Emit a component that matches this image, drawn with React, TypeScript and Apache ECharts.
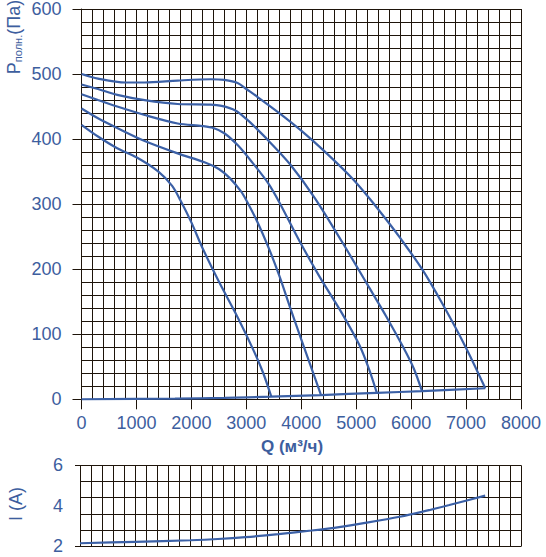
import React, { useEffect, useRef } from "react";
import * as echarts from "echarts";

// Pressure curves: [Q (m3/h), P (Pa)]
const curve1: number[][] = [
  [0, 422], [300, 404], [650, 386], [1000, 372], [1400, 350], [1650, 328], [1800, 306],
  [2000, 272], [2200, 233], [2500, 181], [2800, 133], [3100, 81], [3300, 42], [3455, 4],
];
const curve2: number[][] = [
  [0, 447], [300, 432], [650, 417], [1150, 397], [1750, 378], [2250, 364], [2500, 354],
  [2700, 340], [2900, 320], [3000, 306], [3200, 273], [3420, 230], [3600, 190], [3790, 143],
  [4000, 92], [4210, 42], [4360, 6.5],
];
const curve3: number[][] = [
  [0, 469], [300, 460], [650, 450], [1150, 437], [1750, 424], [2200, 420], [2400, 417],
  [2600, 409], [2850, 390], [3100, 365], [3400, 332], [3600, 303], [3970, 243], [4330, 189],
  [4750, 131], [5060, 83], [5240, 45], [5375, 10],
];
const curve4: number[][] = [
  [0, 484], [300, 477], [650, 468], [1150, 460], [1750, 454], [2350, 453], [2550, 451],
  [2800, 444], [3000, 431], [3200, 415], [3400, 398], [3800, 361], [4250, 309], [4750, 241],
  [5200, 177], [5550, 127], [5850, 81], [6050, 47], [6200, 12],
];
const curve5: number[][] = [
  [0, 500], [300, 493], [800, 487], [1150, 487], [1750, 490], [2350, 492], [2600, 491],
  [2850, 486], [3000, 477], [3200, 465], [3600, 440], [4000, 413], [4400, 383], [4900, 342],
  [5250, 308], [5550, 276], [5800, 248], [6200, 200], [6575, 146], [7000, 79], [7350, 17],
];
const baseLine: number[][] = [
  [0, 0], [1700, 1], [2600, 2.2], [3455, 4], [4360, 6.5], [5375, 10], [6200, 12.5], [7350, 17],
];
// Current: [Q (m3/h), I (A)]
const current: number[][] = [
  [0, 2.15], [1000, 2.22], [2000, 2.3], [2500, 2.36], [3000, 2.45], [3600, 2.6], [4200, 2.78],
  [4700, 2.95], [5200, 3.17], [5800, 3.46], [6200, 3.7], [6700, 4.04], [7350, 4.5],
];
const currentLabels = [2, 4, 6];

export default function App() {
  const ref = useRef<HTMLDivElement>(null);
  useEffect(() => {
    const chart = echarts.init(ref.current!, null, { renderer: "svg" });
    const gridColor = "#1e140a";
    const blue = "#3d5e9e";
    const lineColor = "#3b60a6";
    const font = "'Liberation Sans', Arial, sans-serif";
    const plain = (v: number) => String(v);
    const pCurve = (data: number[][]) => ({
      type: "line",
      xAxisIndex: 0,
      yAxisIndex: 0,
      data,
      symbol: "none",
      showSymbol: false,
      smooth: 0.3,
      silent: true,
      lineStyle: { color: lineColor, width: 2.2 },
    });
    const gl = { color: gridColor, width: 1 };
    chart.setOption({
      animation: false,
      grid: [
        { left: 81.5, top: 9, width: 439.5, height: 390.3 },
        { left: 80, top: 465.3, width: 441, height: 81 },
      ],
      xAxis: [
        {
          gridIndex: 0, type: "value", min: 0, max: 8000, interval: 1000,
          axisLine: { show: true, onZero: false, lineStyle: gl },
          axisTick: { show: true, inside: false, length: 10, lineStyle: gl },
          minorTick: { show: true, splitNumber: 5, length: 0, lineStyle: { width: 0 } },
          splitLine: { show: true, lineStyle: gl },
          minorSplitLine: { show: true, lineStyle: gl },
          axisLabel: { color: blue, fontSize: 18, fontFamily: font, margin: 15, formatter: plain },
        },
        {
          gridIndex: 1, type: "value", min: 0, max: 8000, interval: 1000,
          axisLine: { show: true, onZero: false, lineStyle: gl },
          axisTick: { show: false },
          minorTick: { show: true, splitNumber: 5, length: 0, lineStyle: { width: 0 } },
          splitLine: { show: true, lineStyle: gl },
          minorSplitLine: { show: true, lineStyle: gl },
          axisLabel: { show: false },
        },
      ],
      yAxis: [
        {
          gridIndex: 0, type: "value", min: 0, max: 600, interval: 100, position: "left",
          axisLine: { show: true, lineStyle: gl },
          axisTick: { show: true, inside: false, length: 9, lineStyle: gl },
          minorTick: { show: true, splitNumber: 5, length: 0, lineStyle: { width: 0 } },
          splitLine: { show: true, lineStyle: gl },
          minorSplitLine: { show: true, lineStyle: gl },
          axisLabel: { color: blue, fontSize: 18, fontFamily: font, margin: 20, formatter: plain },
        },
        {
          gridIndex: 1, type: "value", min: 0, max: 5, interval: 1, position: "left",
          axisLine: { show: false },
          axisTick: { show: false },
          splitLine: { show: true, lineStyle: gl },
          axisLabel: { show: false },
        },
        {
          gridIndex: 1, type: "value", min: 2, max: 6, interval: 2, position: "left", offset: 0,
          axisLine: { show: false },
          axisTick: { show: true, inside: false, length: 5, lineStyle: gl, customValues: [2, 6] },
          splitLine: { show: false },
          axisLabel: {
            color: blue, fontSize: 18, fontFamily: font, margin: 17,
            customValues: currentLabels, formatter: plain,
          },
        },
      ],
      series: [
        pCurve(curve1),
        pCurve(curve2),
        pCurve(curve3),
        pCurve(curve4),
        pCurve(curve5),
        { ...pCurve(baseLine), smooth: 0.3 },
        {
          type: "line", xAxisIndex: 1, yAxisIndex: 2, data: current, symbol: "none",
          showSymbol: false, smooth: 0.3, silent: true,
          lineStyle: { color: lineColor, width: 2.2 },
        },
      ],
      graphic: [
        {
          type: "text", x: 14, y: 37, rotation: Math.PI / 2,
          style: {
            text: "{p|P}{s|полн.}{n|(Па)}",
            align: "center", verticalAlign: "middle",
            fill: blue, fontFamily: font,
            rich: {
              p: { fontSize: 18, fill: blue, fontFamily: font },
              s: { fontSize: 11, fill: blue, fontFamily: font, verticalAlign: "bottom" },
              n: { fontSize: 18, fill: blue, fontFamily: font },
            },
          },
        },
        {
          type: "text", x: 16, y: 504, rotation: Math.PI / 2,
          style: {
            text: "I (A)", align: "center", verticalAlign: "middle",
            fill: blue, fontSize: 18, fontFamily: font,
          },
        },
        {
          type: "text", x: 292, y: 446,
          style: {
            text: "Q (м³/ч)", align: "center", verticalAlign: "middle",
            fill: blue, fontSize: 17, fontWeight: "bold", fontFamily: font,
          },
        },
      ],
    });
    return () => chart.dispose();
  }, []);
  return (
    <div
      ref={ref}
      style={{ position: "absolute", left: 0, top: 0, width: 546, height: 557 }}
    />
  );
}
